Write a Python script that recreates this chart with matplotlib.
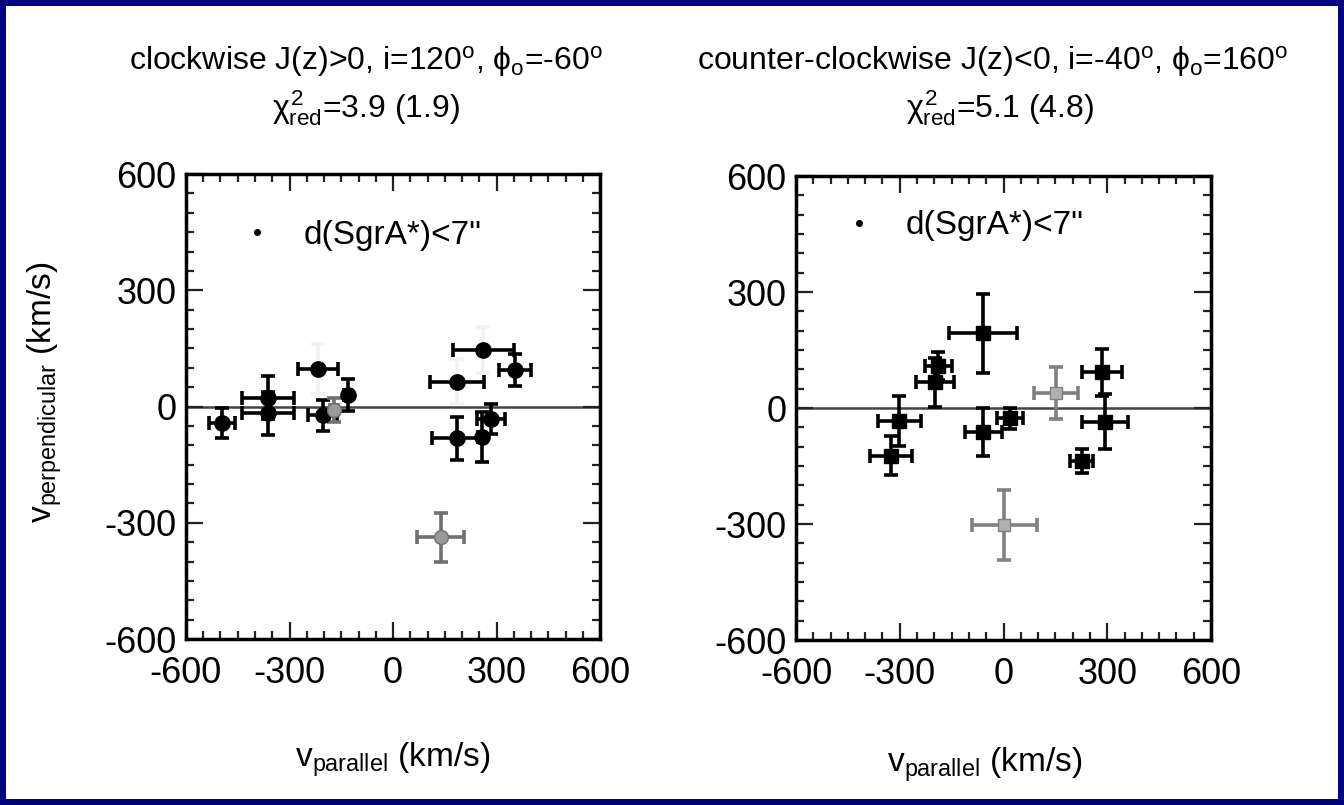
import matplotlib
matplotlib.use("Agg")
import matplotlib.pyplot as plt
from matplotlib import font_manager
from matplotlib.lines import Line2D
from matplotlib.patches import Rectangle
from matplotlib.ticker import MultipleLocator

# ---- data: clockwise model (left panel) ----
cw_x = [-496, -363, -363, -204, -131, 354, 284, 185]
cw_y = [-42, 23, -18, -22, 30, 94, -32, -82]
cw_xerr = [37, 75, 75, 42, 10, 46, 41, 72]
cw_yerr = [39, 56, 56, 40, 42, 41, 39, 55]
# points whose vertical bars are drawn faint (only the caps show)
cw_faint_x = [-216, 185, 262]
cw_faint_y = [96, 64, 146]
cw_faint_xerr = [58, 79, 88]
cw_faint_yerr = [65, 58, 59]
# points with small x errors
cw_narrow_x = [257]
cw_narrow_y = [-78]
cw_narrow_xerr = [10]
cw_narrow_yerr = [65]
# grey (outside the 7" radius) points
cw_grey_x = [-171, 139]
cw_grey_y = [-9, -338]
cw_grey_xerr = [12, 68]
cw_grey_yerr = [32, 64]

# ---- data: counter-clockwise model (right panel) ----
ccw_x = [-60, -188, -198, -301, -326, -58, 19, 284, 294, 226]
ccw_y = [193, 109, 66, -34, -123, -61, -27, 92, -35, -137]
ccw_xerr = [99, 39, 56, 62, 60, 54, 38, 58, 67, 34]
ccw_yerr = [102, 37, 63, 64, 51, 62, 27, 60, 72, 31]
ccw_grey_x = [151, 2]
ccw_grey_y = [38, -302]
ccw_grey_xerr = [64, 94]
ccw_grey_yerr = [67, 90]

ticks = [-600, -300, 0, 300, 600]
tick_labels = ["-600", "-300", "0", "300", "600"]

titles_left = [r"clockwise J(z)>0, i=120$^{\rm o}$, $\phi_{\rm o}$=-60$^{\rm o}$",
               r"$\chi^2_{\rm red}$=3.9 (1.9)"]
titles_right = [r"counter-clockwise J(z)<0, i=-40$^{\rm o}$, $\phi_{\rm o}$=160$^{\rm o}$",
                r"$\chi^2_{\rm red}$=5.1 (4.8)"]
legend_label = "d(SgrA*)<7\""

# ---- fonts ----
available = {f.name for f in font_manager.fontManager.ttflist}
family = "Liberation Sans Narrow" if "Liberation Sans Narrow" in available else "Liberation Sans"
plt.rcParams["font.family"] = [family, "DejaVu Sans"]
plt.rcParams["mathtext.fontset"] = "custom"
plt.rcParams["mathtext.rm"] = family
plt.rcParams["mathtext.it"] = family
plt.rcParams["mathtext.sf"] = family

W, H = 1344, 805
fig = plt.figure(figsize=(W / 100, H / 100), dpi=100, facecolor="#000080")
b = 6
fig.patches.append(Rectangle((b / W, b / H), 1 - 2 * b / W, 1 - 2 * b / H,
                             transform=fig.transFigure, facecolor="white",
                             edgecolor="none", zorder=-10))

ax1 = fig.add_axes([186 / W, 1 - 639 / H, 414 / W, 465 / H])
ax2 = fig.add_axes([796 / W, 1 - 640 / H, 415 / W, 464 / H])

eb_kw = dict(ls="none", elinewidth=2.6, capsize=5, capthick=2.6)


def style_axes(ax):
    ax.set_xlim(-600, 600)
    ax.set_ylim(-600, 600)
    ax.set_xticks(ticks)
    ax.set_xticklabels(tick_labels)
    ax.set_yticks(ticks)
    ax.set_yticklabels(tick_labels)
    ax.xaxis.set_minor_locator(MultipleLocator(50))
    ax.yaxis.set_minor_locator(MultipleLocator(50))
    ax.tick_params(which="both", direction="in", top=True, right=True,
                   width=1.6, color="#222222")
    ax.tick_params(which="major", length=12, labelsize=26)
    ax.tick_params(axis="x", which="major", pad=12)
    ax.tick_params(axis="y", which="major", pad=7)
    ax.tick_params(which="minor", length=6)
    for s in ax.spines.values():
        s.set_linewidth(2.5)
    ax.axhline(0, color="#444444", lw=1.8, zorder=1)
    ax.set_facecolor("white")


style_axes(ax1)
style_axes(ax2)

# left panel markers
ax1.errorbar(cw_x, cw_y, xerr=cw_xerr, yerr=cw_yerr, fmt="o", ms=11,
             color="black", ecolor="black", **eb_kw)
ax1.errorbar(cw_narrow_x, cw_narrow_y, xerr=cw_narrow_xerr, yerr=cw_narrow_yerr,
             fmt="o", ms=11, color="black", ecolor="black", **eb_kw)
ax1.errorbar(cw_faint_x, cw_faint_y, xerr=cw_faint_xerr, fmt="o", ms=11,
             color="black", ecolor="black", **eb_kw)
faint = ax1.errorbar(cw_faint_x, cw_faint_y, yerr=cw_faint_yerr, fmt="none",
                     ecolor="#f2f2f2", **eb_kw)
for cap in faint[1]:
    cap.set_color("#555555")
ax1.errorbar(cw_grey_x, cw_grey_y, xerr=cw_grey_xerr, yerr=cw_grey_yerr, fmt="o",
             ms=10, color="#707070", mfc="#999999", ecolor="#707070", **eb_kw)

# right panel markers
ax2.errorbar(ccw_x, ccw_y, xerr=ccw_xerr, yerr=ccw_yerr, fmt="s", ms=10,
             color="black", ecolor="black", **eb_kw)
ax2.errorbar(ccw_grey_x, ccw_grey_y, xerr=ccw_grey_xerr, yerr=ccw_grey_yerr,
             fmt="s", ms=9, color="#808080", mfc="#b0b0b0", ecolor="#808080",
             **eb_kw)

# legends
for ax, anchor in ((ax1, (0.10, 0.93)), (ax2, (0.08, 0.955))):
    h = Line2D([], [], marker="o", ms=4, ls="none", color="black", label=legend_label)
    ax.legend(handles=[h], loc="upper left", bbox_to_anchor=anchor, frameon=False,
              fontsize=24, handlelength=1.0, handletextpad=0.9, borderaxespad=0)

# titles
fig.text(366 / W, 1 - 62 / H, titles_left[0], ha="center", va="center", fontsize=23)
fig.text(366 / W, 1 - 108 / H, titles_left[1], ha="center", va="center", fontsize=23)
fig.text(993 / W, 1 - 62 / H, titles_right[0], ha="center", va="center", fontsize=23)
fig.text(1000 / W, 1 - 108 / H, titles_right[1], ha="center", va="center", fontsize=23)

# axis labels
fig.text(45 / W, 1 - 392 / H, r"v$_{\rm perpendicular}$ (km/s)", rotation=90,
         ha="center", va="center", fontsize=24)
fig.text(393 / W, 1 - 760 / H, r"v$_{\rm parallel}$ (km/s)", ha="center",
         va="center", fontsize=24)
fig.text(985 / W, 1 - 765 / H, r"v$_{\rm parallel}$ (km/s)", ha="center",
         va="center", fontsize=24)

fig.savefig("out.png", dpi=100, facecolor=fig.get_facecolor())
